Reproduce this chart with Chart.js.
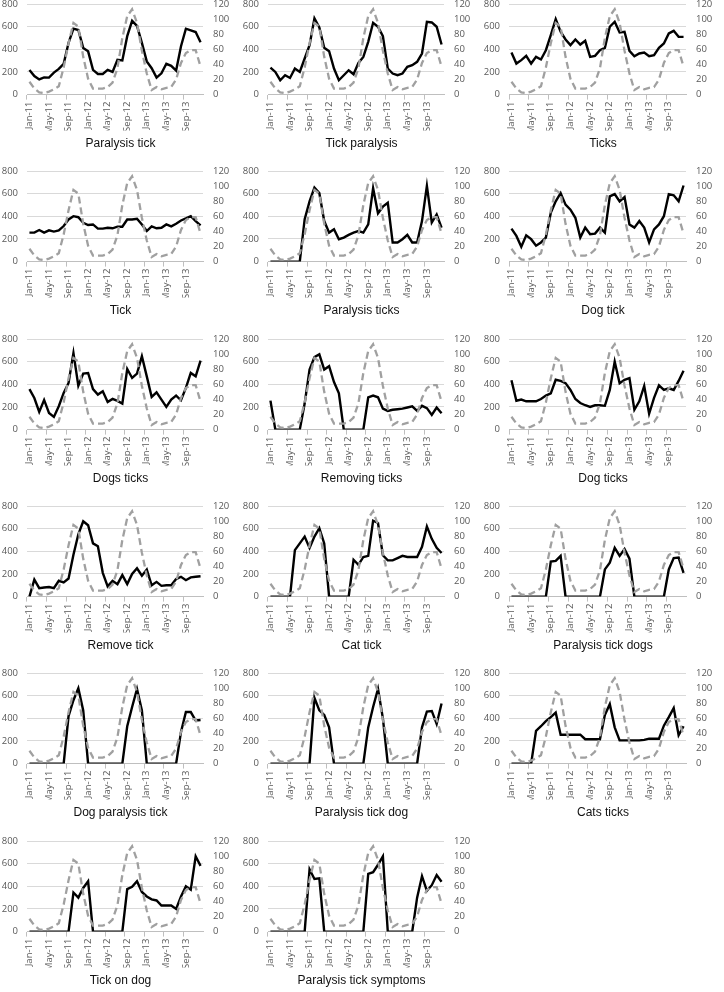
<!DOCTYPE html>
<html>
<head>
<meta charset="utf-8">
<script src="https://cdn.jsdelivr.net/npm/chart.js@4.4.0/dist/chart.umd.min.js"></script>
<style>
  html, body { margin: 0; padding: 0; background: #fff; }
  body { width: 724px; height: 992px; position: relative; overflow: hidden; }
  canvas { position: absolute; }
</style>
</head>
<body>
<script>
// monthly categories, Jan-11 .. Dec-13
const months = [
  'Jan-11','Feb-11','Mar-11','Apr-11','May-11','Jun-11','Jul-11','Aug-11','Sep-11','Oct-11','Nov-11','Dec-11',
  'Jan-12','Feb-12','Mar-12','Apr-12','May-12','Jun-12','Jul-12','Aug-12','Sep-12','Oct-12','Nov-12','Dec-12',
  'Jan-13','Feb-13','Mar-13','Apr-13','May-13','Jun-13','Jul-13','Aug-13','Sep-13','Oct-13','Nov-13','Dec-13'
];

// grey dashed series (right axis), same in every panel
const tickCases = [17,8,3,2,4,7,11,36,68,95,90,50,21,8,8,8,10,16,35,75,104,113,95,58,28,6,10,7,9,10,20,42,55,59,59,37];

// black series (left axis), one per search term
const paralysisTick = [218,164,134,152,150,194,227,272,457,582,570,412,382,218,182,182,218,200,307,301,516,651,606,457,293,233,150,188,272,254,212,427,582,567,552,463];
const tickParalysis = [239,200,127,171,147,230,200,319,437,673,593,413,383,230,127,171,215,180,280,333,466,634,599,516,230,186,171,186,245,260,289,363,643,637,599,442];
const ticks = [372,274,304,342,274,333,310,392,525,667,555,487,437,487,442,475,333,342,392,413,599,643,549,555,386,339,363,372,339,348,413,451,540,563,510,510];
const tick = [256,256,279,256,276,265,276,314,372,401,392,343,323,328,291,291,299,294,308,308,372,372,378,328,270,311,294,299,328,311,334,363,381,401,358,320];
const paralysisTicks = [0,0,0,0,0,0,0,375,532,654,605,358,256,285,198,212,236,256,270,256,328,648,427,485,520,169,169,198,236,169,169,358,669,345,416,300];
const dogTick = [291,227,131,232,198,140,169,212,430,532,605,503,459,387,212,300,241,247,300,256,576,596,532,570,328,300,358,300,169,285,328,401,596,585,532,672];
const dogsTicks = [358,279,156,262,147,112,206,324,412,676,388,494,500,358,309,338,244,271,253,229,535,456,494,647,470,288,329,265,200,265,300,259,368,500,471,609];
const removingTicks = [256,0,0,0,0,0,0,230,530,640,665,530,560,420,320,0,0,0,0,0,285,300,285,185,165,175,180,185,195,205,165,210,190,130,195,145];
const dogTicks = [435,255,265,250,250,250,270,300,320,440,430,410,350,270,235,215,200,215,215,210,350,600,410,440,455,175,250,385,140,280,390,350,365,350,430,520];
const removeTick = [0,150,75,80,85,75,140,125,160,370,550,665,630,470,445,210,90,140,110,190,110,200,250,185,240,100,130,95,100,100,155,175,145,170,175,180];
const catTick = [0,0,0,0,0,410,470,530,430,530,605,470,0,0,0,0,0,325,280,350,360,670,650,365,320,320,340,360,350,350,350,440,620,510,430,385];
const paralysisTickDogs = [0,0,0,0,0,0,0,0,310,315,360,0,0,0,0,0,0,0,0,240,300,430,360,420,335,0,0,0,0,0,0,0,240,340,345,210];
const dogParalysisTick = [0,0,0,0,0,0,0,0,420,560,665,470,0,0,0,0,0,0,0,0,330,500,660,470,0,0,0,0,0,0,0,280,455,455,380,385];
const paralysisTickDog = [0,0,0,0,0,0,0,0,0,580,470,430,320,0,0,0,0,0,0,0,320,500,660,400,0,0,0,0,0,0,0,320,460,465,350,530];
const catsTicks = [0,0,0,0,0,290,330,375,410,450,255,255,255,255,255,215,215,215,215,430,525,320,205,205,205,205,205,210,220,220,220,335,410,490,250,330];
const tickOnDog = [0,0,0,0,0,0,0,0,0,345,300,385,445,0,0,0,0,0,0,0,375,395,445,350,310,285,275,230,230,230,200,310,400,370,665,580];
const paralysisTickSymptoms = [0,0,0,0,0,0,0,0,550,465,470,0,0,0,0,0,0,0,0,0,510,525,590,665,0,0,0,0,0,0,300,490,360,410,500,440];

const panels = [
  ['Paralysis tick', paralysisTick],
  ['Tick paralysis', tickParalysis],
  ['Ticks', ticks],
  ['Tick', tick],
  ['Paralysis ticks', paralysisTicks],
  ['Dog tick', dogTick],
  ['Dogs ticks', dogsTicks],
  ['Removing ticks', removingTicks],
  ['Dog ticks', dogTicks],
  ['Remove tick', removeTick],
  ['Cat tick', catTick],
  ['Paralysis tick dogs', paralysisTickDogs],
  ['Dog paralysis tick', dogParalysisTick],
  ['Paralysis tick dog', paralysisTickDog],
  ['Cats ticks', catsTicks],
  ['Tick on dog', tickOnDog],
  ['Paralysis tick symptoms', paralysisTickSymptoms]
];

Chart.defaults.font.family = '"Open Sans", sans-serif';
Chart.defaults.font.size = 9.5;
Chart.defaults.color = '#595959';

const colLeft = [0, 241, 482];
const colWidth = [241, 241, 242];
const rowPitch = 167.3;
const panelHeight = 167;

function makePanel(title, values, n) {
    const col = n % 3;
    const row = Math.floor(n / 3);
    const canvas = document.createElement('canvas');
    canvas.width = colWidth[col];
    canvas.height = panelHeight;
    canvas.style.left = colLeft[col] + 'px';
    canvas.style.top = Math.round(row * rowPitch) + 'px';
    document.body.appendChild(canvas);

    new Chart(canvas.getContext('2d'), {
        type: 'line',
        data: {
            labels: months,
            datasets: [
                {
                    label: title,
                    data: values,
                    yAxisID: 'y',
                    borderColor: '#000000',
                    borderWidth: 2.4,
                    pointRadius: 0,
                    tension: 0,
                    order: 1
                },
                {
                    label: 'Cases',
                    data: tickCases,
                    yAxisID: 'y1',
                    borderColor: '#a0a0a0',
                    borderWidth: 2.3,
                    borderDash: [7, 4],
                    pointRadius: 0,
                    tension: 0,
                    order: 0
                }
            ]
        },
        options: {
            responsive: false,
            animation: false,
            devicePixelRatio: 1,
            layout: { padding: { top: 4, left: 0, right: 0, bottom: 0 } },
            scales: {
                x: {
                    offset: true,
                    grid: {
                        drawOnChartArea: false,
                        offset: true,
                        tickLength: 5,
                        color: ctx => (ctx.index % 4 === 0 ? '#bfbfbf' : 'rgba(0,0,0,0)')
                    },
                    border: { color: '#bfbfbf' },
                    ticks: {
                        autoSkip: false,
                        minRotation: 90,
                        maxRotation: 90,
                        padding: 2,
                        callback: (v, i) => (i % 4 === 0 ? months[i] : '')
                    },
                    afterFit: s => { s.height = 36; s.paddingLeft = 0; s.paddingRight = 0; }
                },
                y: {
                    position: 'left',
                    min: 0,
                    max: 800,
                    ticks: { stepSize: 200, padding: 9 },
                    grid: { color: '#d9d9d9', drawTicks: false },
                    border: { display: false },
                    afterFit: s => { s.width = 27; s.paddingTop = 0; s.paddingBottom = 0; }
                },
                y1: {
                    position: 'right',
                    min: 0,
                    max: 120,
                    ticks: { stepSize: 20, padding: 10 },
                    grid: { drawOnChartArea: false, drawTicks: false },
                    border: { display: false },
                    afterFit: s => { s.width = 38; s.paddingTop = 0; s.paddingBottom = 0; }
                }
            },
            plugins: {
                legend: { display: false },
                tooltip: { enabled: false },
                title: {
                    display: true,
                    position: 'bottom',
                    text: title,
                    color: '#111111',
                    font: { family: '"Liberation Sans", Arial, sans-serif', size: 12, weight: 'normal' },
                    padding: { top: 6, bottom: 16 }
                }
            }
        }
    });
}

panels.forEach((p, n) => makePanel(p[0], p[1], n));
</script>
</body>
</html>
